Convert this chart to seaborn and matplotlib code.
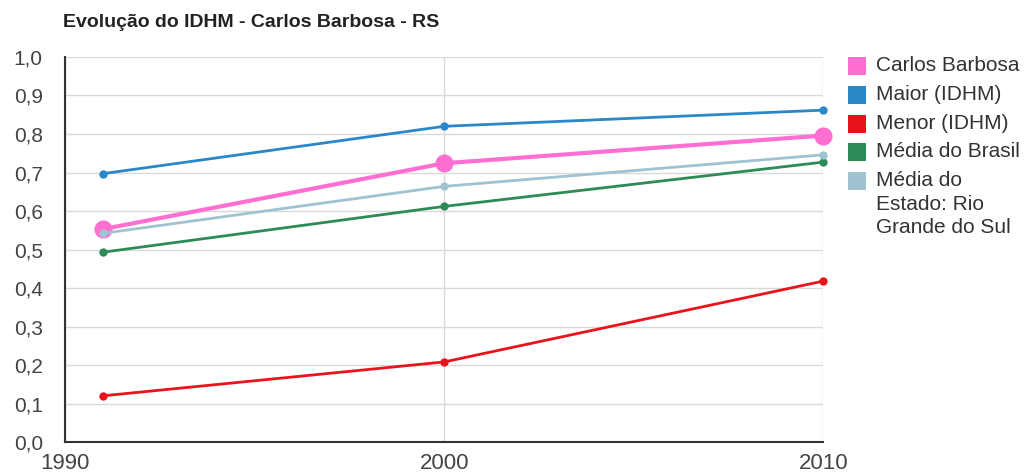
import numpy as np
import matplotlib
matplotlib.use('Agg')
import matplotlib.pyplot as plt
from matplotlib.patches import Rectangle
import pandas as pd
import seaborn as sns

# dados
anos = [1991, 2000, 2010]
carlos_barbosa = [0.553, 0.724, 0.796]
maior = [0.697, 0.820, 0.862]
menor = [0.120, 0.208, 0.418]
media_brasil = [0.493, 0.612, 0.727]
media_rs = [0.542, 0.664, 0.746]

series = ['Carlos Barbosa', 'Maior (IDHM)', 'Menor (IDHM)', 'Média do Brasil',
          'Média do\nEstado: Rio\nGrande do Sul']
valores = [carlos_barbosa, maior, menor, media_brasil, media_rs]
cores = ['#ff6fd2', '#2a87c8', '#e8141b', '#2e8b57', '#9fc3d1']

rows = []
for nome, vals in zip(series, valores):
    for a, v in zip(anos, vals):
        rows.append({'ano': a, 'idhm': v, 'serie': nome})
df = pd.DataFrame(rows)

sns.set_style('white')
plt.rcParams['font.family'] = ['Liberation Sans', 'DejaVu Sans']

W, H = 1033, 473
fig = plt.figure(figsize=(W / 100, H / 100), dpi=100)
ax = fig.add_axes([0.063, 0.0655, 0.734, 0.814])

for nome, cor in zip(series, cores):
    d = df[df.serie == nome]
    grosso = nome == 'Carlos Barbosa'
    sns.lineplot(data=d, x='ano', y='idhm', ax=ax, color=cor,
                 lw=3 if grosso else 2, marker='o',
                 markersize=13 if grosso else 6, markeredgewidth=0,
                 legend=False, zorder=3, clip_on=False)

ax.set_xlim(1990, 2010)
ax.set_ylim(0, 1.0)
ax.set_xticks([1990, 2000, 2010])
ax.set_yticks(np.arange(0, 1.01, 0.1))
ax.set_yticklabels([f'{v:.1f}'.replace('.', ',') for v in np.arange(0, 1.01, 0.1)])
ax.set_xticklabels(['1990', '2000', '2010'])
ax.set_xlabel('')
ax.set_ylabel('')
ax.grid(True, color='#d9d9d9', lw=1)
ax.set_axisbelow(True)
for s in ['top', 'right']:
    ax.spines[s].set_visible(False)
ax.spines['left'].set_color('#333333')
ax.spines['bottom'].set_color('#333333')
ax.spines['left'].set_linewidth(1.5)
ax.spines['bottom'].set_linewidth(1.5)
ax.tick_params(axis='y', labelsize=15, colors='#444444', length=0, pad=16)
ax.tick_params(axis='x', labelsize=16, colors='#444444', length=0, pad=8)

fig.text(63 / W, 1 - 27 / H, 'Evolução do IDHM - Carlos Barbosa - RS', fontsize=14,
         fontweight='bold', color='#222222')

# legenda desenhada a mao (quadrado alinhado com a primeira linha)
y0 = 66
for i, (nome, cor) in enumerate(zip(series, cores)):
    yc = y0 + i * 28.8
    fig.patches.append(Rectangle((848 / W, 1 - (yc + 9) / H), 18 / W, 18 / H,
                                 transform=fig.transFigure, facecolor=cor,
                                 edgecolor='none'))
    fig.text(876 / W, 1 - (yc - 10) / H, nome, fontsize=15, color='#333333',
             va='top', ha='left', linespacing=1.3)

fig.savefig('out.png', dpi=100)
